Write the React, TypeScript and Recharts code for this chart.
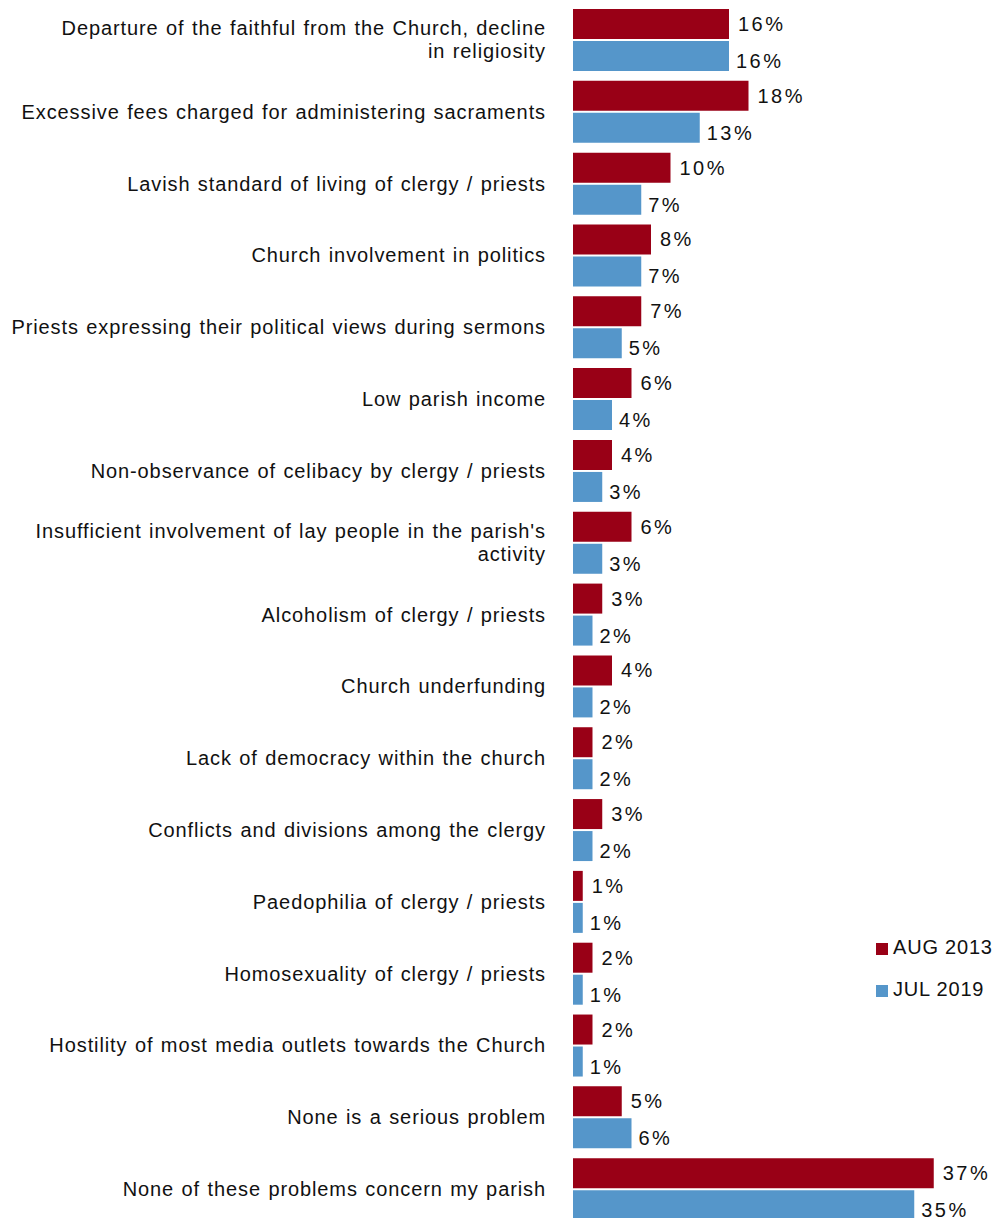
import * as React from 'react';
import { BarChart, Bar, XAxis, YAxis } from 'recharts';

const categories: string[][] = [
  ['Departure of the faithful from the Church, decline', 'in religiosity'],
  ['Excessive fees charged for administering sacraments'],
  ['Lavish standard of living of clergy / priests'],
  ['Church involvement in politics'],
  ['Priests expressing their political views during sermons'],
  ['Low parish income'],
  ['Non-observance of celibacy by clergy / priests'],
  ["Insufficient involvement of lay people in the parish's", 'activity'],
  ['Alcoholism of clergy / priests'],
  ['Church underfunding'],
  ['Lack of democracy within the church'],
  ['Conflicts and divisions among the clergy'],
  ['Paedophilia of clergy / priests'],
  ['Homosexuality of clergy / priests'],
  ['Hostility of most media outlets towards the Church'],
  ['None is a serious problem'],
  ['None of these problems concern my parish'],
];

const aug2013 = [16, 18, 10, 8, 7, 6, 4, 6, 3, 4, 2, 3, 1, 2, 2, 5, 37];
const jul2019 = [16, 13, 7, 7, 5, 4, 3, 3, 2, 2, 2, 2, 1, 1, 1, 6, 35];

const seriesNames = ['AUG 2013', 'JUL 2019'];
const RED = '#990016';
const BLUE = '#5596CA';
const FONT = '"Liberation Sans", Arial, sans-serif';

const data = categories.map((lines, i) => ({
  key: String(i),
  lines,
  aug: aug2013[i],
  jul: jul2019[i],
}));

const CategoryTick = ({ y, payload }: any) => {
  const lines = data[Number(payload.value)].lines;
  const lh = 23;
  const start = -((lines.length - 1) * lh) / 2;
  return (
    <text
      x={546}
      y={y}
      textAnchor="end"
      fontSize={20}
      fontFamily={FONT}
      fill="#111"
      style={{ letterSpacing: '0.9px', wordSpacing: '1px' }}
    >
      {lines.map((l, i) => (
        <tspan key={i} x={546} y={y + start + i * lh} dominantBaseline="central">
          {l}
        </tspan>
      ))}
    </text>
  );
};

const makeLabel = (dx: number, dy: number) => (props: any) => {
  const { x, y, width, height, value } = props;
  return (
    <text
      x={x + width + dx}
      y={y + height / 2 + dy}
      fontSize={20}
      fontFamily={FONT}
      fill="#111"
      dominantBaseline="central"
      style={{ letterSpacing: '2.5px' }}
    >
      {`${value}%`}
    </text>
  );
};

const LegendBox = () => (
  <div
    style={{
      position: 'absolute',
      left: 876,
      top: 926,
      fontFamily: FONT,
      fontSize: 20,
      color: '#111',
      letterSpacing: '0.8px',
    }}
  >
    {seriesNames.map((name, i) => (
      <div key={name} style={{ display: 'flex', alignItems: 'center', height: 42 }}>
        <span
          style={{
            width: 12,
            height: 12,
            background: i === 0 ? RED : BLUE,
            display: 'inline-block',
            marginRight: 5,
            marginTop: 4,
          }}
        />
        <span>{name}</span>
      </div>
    ))}
  </div>
);

export default function App() {
  return (
    <div style={{ position: 'absolute', left: 0, top: 0, width: 998, height: 1218, overflow: 'hidden', background: '#fff' }}>
      <BarChart
        width={998}
        height={1226}
        data={data}
        layout="vertical"
        margin={{ top: 4, right: 35, bottom: 1, left: 0 }}
        barSize={30}
        barGap={2}
      >
        <XAxis type="number" domain={[0, 40]} hide />
        <YAxis
          type="category"
          dataKey="key"
          width={573}
          axisLine={false}
          tickLine={false}
          tick={<CategoryTick />}
          interval={0}
        />
        <Bar dataKey="aug" name={seriesNames[0]} fill={RED} isAnimationActive={false} label={makeLabel(9, 0)} />
        <Bar dataKey="jul" name={seriesNames[1]} fill={BLUE} isAnimationActive={false} label={makeLabel(7, 5)} />
      </BarChart>
      <LegendBox />
    </div>
  );
}
